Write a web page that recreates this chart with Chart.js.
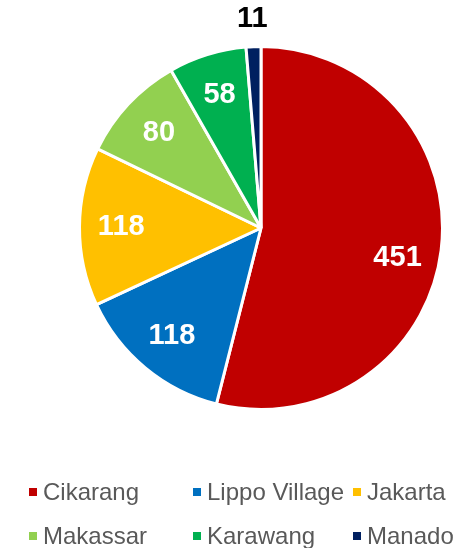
<!DOCTYPE html>
<html>
<head>
<meta charset="utf-8">
<script src="https://cdn.jsdelivr.net/npm/chart.js@4/dist/chart.umd.min.js"></script>
<style>
  html, body { margin: 0; padding: 0; background: #fff; }
  #wrap { position: relative; width: 457px; height: 548px; }
  #legend {
    position: absolute; left: 29px; top: 478px;
    display: grid; grid-template-columns: 164px 160px auto;
    row-gap: 16px;
    font-family: "Liberation Sans", Arial, sans-serif; font-size: 24px; color: #595959;
  }
  #legend .item { display: flex; align-items: center; height: 28px; white-space: nowrap; }
  #legend .box { width: 8px; height: 8px; margin-right: 6px; flex: none; }
</style>
</head>
<body>
<div id="wrap">
  <canvas id="pieChart" width="457" height="548"></canvas>
  <div id="legend"></div>
</div>
<script>
const categories = ['Cikarang', 'Lippo Village', 'Jakarta', 'Makassar', 'Karawang', 'Manado'];
const values = [451, 118, 118, 80, 58, 11];
const colors = ['#C00000', '#0070C0', '#FFC000', '#92D050', '#00B050', '#002060'];

// value labels: inside for big slices, outside for tiny ones
const sliceLabels = {
  id: 'sliceLabels',
  afterDatasetsDraw(chart) {
    const ctx = chart.ctx;
    const meta = chart.getDatasetMeta(0);
    const total = values.reduce((a, b) => a + b, 0);
    ctx.save();
    ctx.font = 'bold 29px "Liberation Sans", Arial, sans-serif';
    ctx.textAlign = 'center';
    ctx.textBaseline = 'middle';
    meta.data.forEach((arc, i) => {
      const p = arc.getProps(['x', 'y', 'startAngle', 'endAngle', 'outerRadius'], true);
      let mid = (p.startAngle + p.endAngle) / 2;
      const small = values[i] / total < 0.03;
      // biggest slice label sits a bit lower, like the original
      if (values[i] / total > 0.5) mid += 0.09;
      const r = small ? p.outerRadius * 1.15 : p.outerRadius * 0.77;
      ctx.fillStyle = small ? '#000000' : '#FFFFFF';
      ctx.fillText(String(values[i]), p.x + Math.cos(mid) * r, p.y + Math.sin(mid) * r);
    });
    ctx.restore();
  }
};

new Chart(document.getElementById('pieChart'), {
  type: 'pie',
  data: {
    labels: categories,
    datasets: [{
      data: values,
      backgroundColor: colors,
      borderColor: '#FFFFFF',
      borderWidth: 3
    }]
  },
  options: {
    responsive: false,
    animation: false,
    layout: { padding: { left: 78, right: 13, top: 45, bottom: 137 } },
    plugins: {
      legend: { display: false },
      tooltip: { enabled: false }
    }
  },
  plugins: [sliceLabels]
});

// legend laid out in a 3-column grid
const legend = document.getElementById('legend');
categories.forEach((name, i) => {
  const item = document.createElement('div');
  item.className = 'item';
  const box = document.createElement('span');
  box.className = 'box';
  box.style.background = colors[i];
  const txt = document.createElement('span');
  txt.textContent = name;
  item.appendChild(box);
  item.appendChild(txt);
  legend.appendChild(item);
});
</script>
</body>
</html>
